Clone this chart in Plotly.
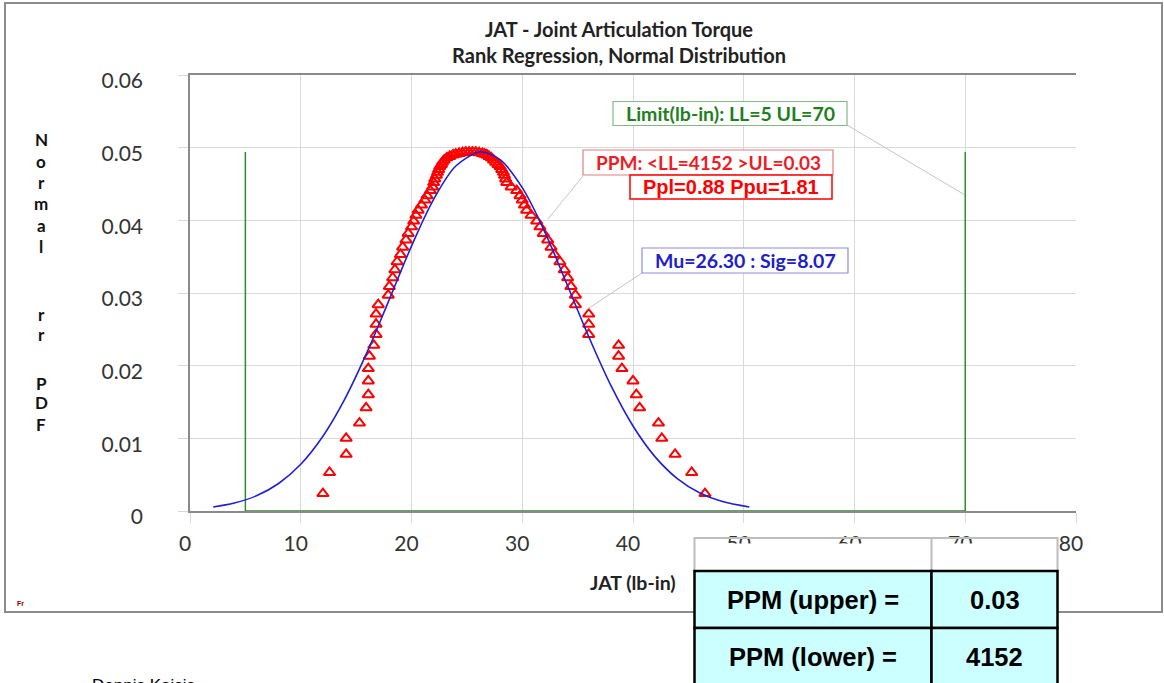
import plotly.graph_objects as go

# ---------------- data ----------------
x_data = [12.0, 12.6, 14.1, 14.1, 15.3, 15.9, 16.1, 16.1, 16.1, 16.2, 16.6, 16.8, 16.8, 16.8, 17.0, 17.9,
          18.0, 18.3, 18.5, 18.7, 19.0, 19.2, 19.5, 19.7, 20.0, 20.2, 20.4, 20.6, 20.9, 21.2, 21.4, 21.7,
          21.9, 22.0, 22.1, 22.25, 22.35, 22.45, 22.55, 22.7, 22.8, 22.95, 23.2, 23.45, 23.75, 24.0, 24.3,
          24.6, 24.9, 25.2,
          25.5, 25.8, 26.1, 26.4, 26.6, 26.8, 27.0, 27.2, 27.4, 27.6, 27.8, 28.0, 28.15, 28.3, 28.4, 28.5,
          28.6, 29.0, 29.5, 29.8, 30.0, 30.2, 30.4, 30.8, 31.3, 31.6, 31.9, 32.3, 32.6, 32.9, 33.4, 33.8,
          34.1, 34.4,
          34.8, 34.8, 36.0, 36.0, 36.0, 38.7, 38.7, 39.0, 40.0, 40.3, 40.6, 42.3, 42.6, 43.8, 45.3, 46.5]
y_data = [0.0024, 0.0053, 0.0078, 0.0100, 0.0121, 0.0142, 0.0160, 0.0179, 0.0196, 0.0213, 0.0228, 0.0243,
          0.0257, 0.0271, 0.0284, 0.0297,
          0.0309, 0.0321, 0.0332, 0.0343, 0.0353, 0.0363, 0.0373, 0.0382, 0.0391, 0.0399, 0.0407, 0.0414,
          0.0421, 0.0428, 0.0434, 0.0441, 0.0446, 0.0452, 0.0457, 0.0462, 0.0466, 0.0470, 0.0474, 0.0477,
          0.0480, 0.0483, 0.0486, 0.0488, 0.0490, 0.0491, 0.0492, 0.0493, 0.0494, 0.0494,
          0.0494, 0.0494, 0.0493, 0.0492, 0.0491, 0.0490, 0.0488, 0.0486, 0.0483, 0.0480, 0.0477, 0.0474,
          0.0470, 0.0466, 0.0462, 0.0457, 0.0452, 0.0446, 0.0441, 0.0434, 0.0428, 0.0421, 0.0414, 0.0407,
          0.0399, 0.0391, 0.0382, 0.0373, 0.0363, 0.0353, 0.0343, 0.0332, 0.0321, 0.0309,
          0.0297, 0.0284, 0.0271, 0.0257, 0.0243, 0.0228, 0.0213, 0.0196, 0.0179, 0.0160, 0.0142, 0.0121,
          0.0100, 0.0078, 0.0053, 0.0024]

curve_x = [2.1, 4, 6, 8, 10, 12, 14, 16, 18, 20, 22, 24, 26, 26.3, 28, 30, 32, 34, 36, 38, 40, 42, 44, 46, 48, 50.5]
curve_y = [0.00055, 0.00109, 0.00209, 0.00378, 0.00643, 0.01029, 0.01547, 0.02189, 0.02913, 0.03645,
           0.04289, 0.04747, 0.04940, 0.04943, 0.04834, 0.04450, 0.03852, 0.03135, 0.02400, 0.01728,
           0.01170, 0.00745, 0.00446, 0.00251, 0.00133, 0.00055]

limit_x = [5, 5, 70, 70]
limit_y = [0.0494, 0, 0, 0.0494]

x_ticks = [0, 10, 20, 30, 40, 50, 60, 70, 80]
y_ticks = [0, 0.01, 0.02, 0.03, 0.04, 0.05, 0.06]
y_tick_text = ["0", "0.01", "0.02", "0.03", "0.04", "0.05", "0.06"]

y_title_letters = ["N", "o", "r", "m", "a", "l", "r", "r", "P", "D", "F"]
table_rows = [["PPM (upper) =", "0.03"], ["PPM (lower) =", "4152"]]

# ---------------- geometry helpers ----------------
W, H = 1164, 683
L, R, T, B = 190, 1076, 75, 511


def px(x):
    return (x - L) / (R - L)


def py(y):
    return (B - y) / (B - T)


fig = go.Figure()
fig.add_trace(go.Scatter(x=x_data, y=y_data, mode="markers", name="Data",
                         marker=dict(symbol="triangle-up-open", size=10, color="#ff0000",
                                     line=dict(width=2))))
fig.add_trace(go.Scatter(x=limit_x, y=limit_y, mode="lines", name="Limits",
                         line=dict(color="#2e8b2e", width=1.5)))
fig.add_trace(go.Scatter(x=curve_x, y=curve_y, mode="lines", name="Normal PDF",
                         line=dict(color="#1f1fd6", width=1.6, shape="spline")))

shapes = []
# outer chart border
shapes.append(dict(type="rect", xref="paper", yref="paper", x0=px(5), x1=px(1162), y0=py(3), y1=py(612),
                   line=dict(color="#8c8c8c", width=2), fillcolor="rgba(0,0,0,0)", layer="above"))
# leader lines
shapes.append(dict(type="line", xref="paper", yref="paper", x0=px(847), y0=py(125), x1=px(965), y1=py(195),
                   line=dict(color="#c4c4c4", width=1), layer="above"))
shapes.append(dict(type="line", xref="paper", yref="paper", x0=px(583), y0=py(176), x1=px(548), y1=py(219),
                   line=dict(color="#c4c4c4", width=1), layer="above"))
shapes.append(dict(type="line", xref="paper", yref="paper", x0=px(642), y0=py(273), x1=px(586), y1=py(310),
                   line=dict(color="#c4c4c4", width=1), layer="above"))
# label boxes
shapes.append(dict(type="rect", xref="paper", yref="paper", x0=px(613), x1=px(847), y0=py(101.5), y1=py(125.5),
                   line=dict(color="#86b886", width=1.2), fillcolor="white", layer="above"))
shapes.append(dict(type="rect", xref="paper", yref="paper", x0=px(583), x1=px(833), y0=py(150), y1=py(175),
                   line=dict(color="#e08080", width=1.2), fillcolor="white", layer="above"))
shapes.append(dict(type="rect", xref="paper", yref="paper", x0=px(630), x1=px(832), y0=py(175), y1=py(199),
                   line=dict(color="#ff0000", width=1.5), fillcolor="white", layer="above"))
shapes.append(dict(type="rect", xref="paper", yref="paper", x0=px(642), x1=px(848), y0=py(248), y1=py(273),
                   line=dict(color="#8c8ce0", width=1.2), fillcolor="white", layer="above"))
# table: blank header row (white lower part hides the tick labels) then two cyan rows
shapes.append(dict(type="rect", xref="paper", yref="paper", x0=px(694.5), x1=px(1057.5), y0=py(543.5), y1=py(571),
                   line=dict(width=0), fillcolor="white", layer="above"))
shapes.append(dict(type="rect", xref="paper", yref="paper", x0=px(694.5), x1=px(1057.5), y0=py(538), y1=py(571),
                   line=dict(color="#bdbdbd", width=2), fillcolor="rgba(0,0,0,0)", layer="above"))
shapes.append(dict(type="line", xref="paper", yref="paper", x0=px(931.5), x1=px(931.5), y0=py(538), y1=py(571),
                   line=dict(color="#bdbdbd", width=2), layer="above"))
for r0, r1 in [(571, 628), (628, 700)]:
    for c0, c1 in [(694.5, 931.5), (931.5, 1057.5)]:
        shapes.append(dict(type="rect", xref="paper", yref="paper", x0=px(c0), x1=px(c1), y0=py(r0), y1=py(r1),
                           line=dict(color="#000000", width=2.5), fillcolor="#ccffff", layer="above"))

ann = []


def add_text(text, x, y, size, color, family="Lato", bold=True, xanchor="center"):
    ann.append(dict(text=("<b>%s</b>" % text) if bold else text, x=px(x), y=py(y), xref="paper", yref="paper",
                    showarrow=False, xanchor=xanchor, yanchor="middle",
                    font=dict(size=size, color=color, family=family)))


add_text("Limit(lb-in): LL=5 UL=70", 730, 113.5, 19.5, "#1f7f1f")
add_text("PPM: &lt;LL=4152 &gt;UL=0.03", 708, 162.5, 19, "#ee1c25")
add_text("Ppl=0.88 Ppu=1.81", 731, 187, 20, "#ff0000", family="Liberation Sans")
add_text("Mu=26.30 : Sig=8.07", 745, 260.5, 19.5, "#2020c8")
add_text("JAT (lb-in)", 633, 582, 19.5, "#222222")

letter_y = [139, 161, 182, 204, 225, 247, 314, 334, 383, 403, 424]
for ch, yy in zip(y_title_letters, letter_y):
    add_text(ch, 41, yy, 17, "#111111")

for (lbl, val), yy in zip(table_rows, [599.5, 657]):
    add_text(lbl, 813, yy, 25.5, "#000000", family="Liberation Sans")
    add_text(val, 994.5, yy, 25.5, "#000000", family="Liberation Sans")

add_text("Dennis Kaisis", 143, 685, 17, "#000000", family="Liberation Sans", bold=False)
add_text("Fr", 20, 603, 7, "#8b0000", family="Liberation Sans")

fig.update_layout(
    width=W, height=H,
    margin=dict(l=L, r=W - R, t=T, b=H - B, pad=0),
    paper_bgcolor="white", plot_bgcolor="white",
    showlegend=False,
    title=dict(text="<b>JAT - Joint Articulation Torque</b><br><b>Rank Regression, Normal Distribution</b>",
               x=619 / W, xanchor="center", y=1 - 37 / H, yanchor="middle", yref="container",
               font=dict(family="Lato", size=20, color="#222222")),
    shapes=shapes,
    annotations=ann,
)
fig.update_xaxes(range=[0, 80], tickvals=x_ticks, ticktext=[str(v) for v in x_ticks],
                 showgrid=True, gridcolor="#d9d9d9", gridwidth=1,
                 showline=True, linecolor="#8a8a8a", linewidth=1.5, mirror=True,
                 ticks="outside", ticklen=10, tickcolor="#d9d9d9",
                 tickfont=dict(family="Lato", size=21, color="#333333"),
                 ticklabelstandoff=3, ticklabelshift=-5,
                 zeroline=False, layer="below traces")
fig.update_yaxes(range=[0, 0.06], tickvals=y_ticks, ticktext=y_tick_text,
                 showgrid=True, gridcolor="#d9d9d9", gridwidth=1,
                 showline=True, linecolor="#8a8a8a", linewidth=1.5,
                 ticks="outside", ticklen=10, tickcolor="#d9d9d9",
                 tickfont=dict(family="Lato", size=21, color="#333333"),
                 ticklabelstandoff=31, ticklabelshift=6,
                 zeroline=False, layer="below traces")

fig.write_html("out.html", config={"displayModeBar": False},
               post_script="document.body.style.margin='0px';document.body.style.overflow='hidden';")
